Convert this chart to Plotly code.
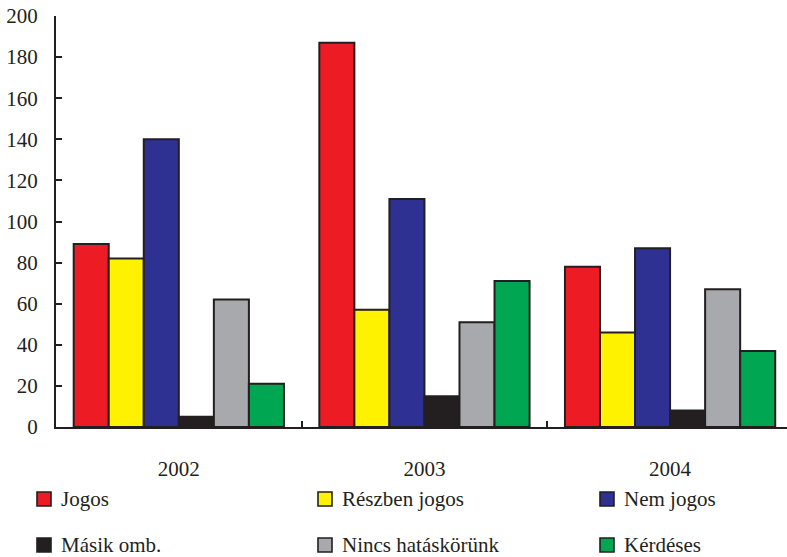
import plotly.graph_objects as go

# Years on the category axis
years = ["2002", "2003", "2004"]

# Complaint outcome categories and their counts per year
series_names = ["Jogos", "Részben jogos", "Nem jogos",
                "Másik omb.", "Nincs hatáskörünk", "Kérdéses"]
jogos = [89, 187, 78]
reszben_jogos = [82, 57, 46]
nem_jogos = [140, 111, 87]
masik_omb = [5, 15, 8]
nincs_hataskorunk = [62, 51, 67]
kerdeses = [21, 71, 37]

series_values = [jogos, reszben_jogos, nem_jogos,
                 masik_omb, nincs_hataskorunk, kerdeses]
series_colors = ["#ED1C24", "#FFF200", "#2E3192",
                 "#231F20", "#A7A9AC", "#00A651"]

y_ticks = [0, 20, 40, 60, 80, 100, 120, 140, 160, 180, 200]

INK = "#231F20"
FONT = "Liberation Serif"

W, H = 787, 557
M_L, M_R, M_T, M_B = 56, 0, 16, 130
PW, PH = W - M_L - M_R, H - M_T - M_B

fig = go.Figure()
for name, vals, col in zip(series_names, series_values, series_colors):
    fig.add_trace(go.Bar(
        x=years, y=vals, name=name,
        marker=dict(color=col, line=dict(color=INK, width=2)),
        showlegend=False,
    ))


def px_x(px):
    return (px - M_L) / PW


def px_y(py):
    return (H - M_B - py) / PH


# Two-row legend laid out in three columns below the plot
col_left = [37, 318, 600]
row_mid = [499, 545]
sq = 14
shapes = []
annotations = []
for i, (name, col) in enumerate(zip(series_names, series_colors)):
    cx = col_left[i % 3]
    cy = row_mid[i // 3]
    shapes.append(dict(
        type="rect", xref="paper", yref="paper",
        x0=px_x(cx), x1=px_x(cx + sq),
        y0=px_y(cy + sq / 2), y1=px_y(cy - sq / 2),
        fillcolor=col, line=dict(color=INK, width=1.6),
    ))
    annotations.append(dict(
        xref="paper", yref="paper",
        x=px_x(cx + 22), y=px_y(cy),
        xanchor="left", yanchor="middle",
        text=name, showarrow=False,
        font=dict(family=FONT, size=21, color=INK),
    ))

fig.update_layout(
    width=W, height=H,
    margin=dict(l=M_L, r=M_R, t=M_T, b=M_B, pad=0),
    paper_bgcolor="white", plot_bgcolor="white",
    barmode="group", bargap=0.144, bargroupgap=0,
    font=dict(family=FONT, size=21, color=INK),
    shapes=shapes, annotations=annotations,
    xaxis=dict(
        range=[-0.5, 2.476],
        showline=True, linecolor=INK, linewidth=2,
        ticks="inside", tickson="boundaries", ticklen=6,
        tickcolor=INK, tickwidth=1.5,
        ticklabelstandoff=22,
        showgrid=False, zeroline=False,
        tickfont=dict(family=FONT, size=21, color=INK),
    ),
    yaxis=dict(
        range=[0, 200], tickvals=y_ticks,
        showline=True, linecolor=INK, linewidth=2,
        ticks="inside", ticklen=6, tickcolor=INK, tickwidth=1.5,
        ticklabelstandoff=12,
        showgrid=False, zeroline=False,
        tickfont=dict(family=FONT, size=21, color=INK),
    ),
)

fig.write_html("out.html")
